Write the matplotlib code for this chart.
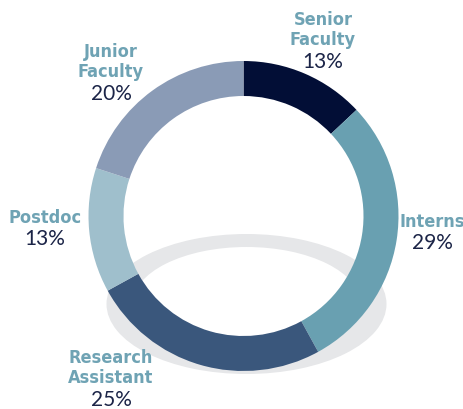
import matplotlib.pyplot as plt
import matplotlib.patches as mpatches
import matplotlib.transforms as mtransforms
from matplotlib import font_manager as fm

# data
categories = ["Senior\nFaculty", "Interns", "Research\nAssistant", "Postdoc", "Junior\nFaculty"]
shares = [13, 29, 25, 13, 20]
colors = ["#020e36", "#69a0b1", "#3a577c", "#9fbfcc", "#8a9bb6"]

# look for a narrow bold face for the category names
narrow = None
for f in fm.fontManager.ttflist:
    if ("Narrow" in f.name or "Condensed" in f.name or f.stretch in ("condensed", "semi-condensed")) \
            and f.weight in ("bold", 700, "semibold", 600):
        narrow = f.fname
        break

W, H = 464, 409
fig = plt.figure(figsize=(W / 100, H / 100), dpi=100)
ax = fig.add_axes([0, 0, 1, 1])

# flattened gray ring behind the donut
ring = mpatches.Wedge((0, 0), 140, 0, 360, width=26, facecolor="#e6e7e9",
                      edgecolor="none", zorder=1)
ring.set_transform(mtransforms.Affine2D().scale(1, 0.5).translate(246.5, H - 304) + ax.transData)
ax.add_patch(ring)

cx, cy = 243.5, H - 216
ax.pie(shares, colors=colors, startangle=90, counterclock=False,
       center=(cx, cy), radius=155, frame=True,
       wedgeprops=dict(width=35, linewidth=0, zorder=2))
ax.set_xlim(0, W)
ax.set_ylim(0, H)
ax.set_aspect("equal")
ax.axis("off")

if narrow:
    name_prop = fm.FontProperties(fname=narrow, size=13)
else:
    name_prop = fm.FontProperties(family="DejaVu Sans", weight="bold", stretch="condensed", size=12)
pct_prop = fm.FontProperties(family="Lato", weight="normal", size=15)

# label anchors (pixel positions, y measured from top)
label_pos = [(323, 30), (432, 222), (111, 368), (45, 218), (111, 62)]
for cat, val, (lx, ly) in zip(categories, shares, label_pos):
    nlines = cat.count("\n") + 1
    ax.text(lx, H - ly, cat, fontproperties=name_prop, color="#6fa3b4",
            ha="center", va="center", linespacing=1.15)
    pct_y = ly + 10.5 * (nlines - 1) + 21.5
    ax.text(lx, H - pct_y, f"{val}%", fontproperties=pct_prop, color="#1b2447",
            ha="center", va="center")

fig.savefig("out.png", dpi=100, facecolor="white")
